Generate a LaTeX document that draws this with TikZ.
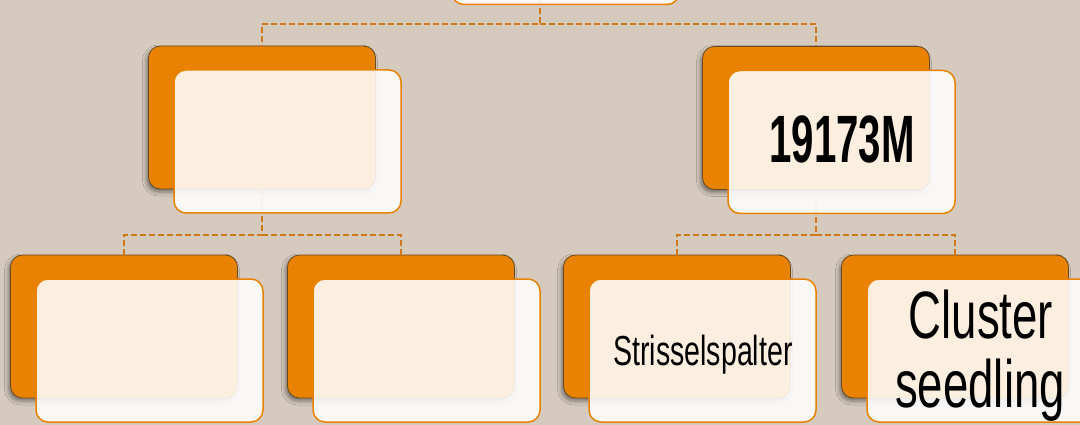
\documentclass[tikz,border=0pt]{standalone}
\usepackage{fontspec}
\usetikzlibrary{shadows.blur,shadows}
\newfontfamily\agency[FakeStretch=0.68]{Liberation Sans}
\newfontfamily\agencyb[FakeStretch=0.6]{Liberation Sans}
\definecolor{bg}{HTML}{D5CABD}
\definecolor{org}{HTML}{E88200}
\definecolor{orgdark}{HTML}{6B4A22}
\definecolor{conn}{HTML}{CC7A1A}
\tikzset{
  obox/.style={draw=orgdark, line width=0.8pt, fill=org, rounded corners=12pt,
    minimum width=227pt, minimum height=143pt, inner sep=0pt,
    blur shadow={shadow xshift=-2pt, shadow yshift=-3pt, shadow blur radius=4pt, shadow opacity=45}},
  wbox/.style={draw=org, line width=1.5pt, fill=white, fill opacity=0.88, rounded corners=12pt,
    minimum width=227pt, minimum height=143pt, inner sep=0pt},
  conn/.style={draw=conn, line width=2pt, dash pattern=on 6pt off 3pt},
  lbl/.style={text=black, anchor=base, inner sep=0pt}
}
\begin{document}
\begin{tikzpicture}[x=1pt,y=-1pt]
\useasboundingbox (0,0) rectangle (1080,425);
\clip (0,0) rectangle (1080,425);
\fill[bg] (0,0) rectangle (1080,425);
% orange boxes
\node[obox] (o0) at (540,-91) {};
\node[obox] (o1) at (262,117.5) {};
\node[obox] (o2) at (816,118) {};
\node[obox] (o3) at (124,326.5) {};
\node[obox] (o4) at (401,326.5) {};
\node[obox] (o5) at (677,326.5) {};
\node[obox] (o6) at (955,326.5) {};
% connectors
\coordinate (j0) at (540,24);
\coordinate (j1) at (262,235);
\coordinate (j2) at (816,235);
\draw[conn] (o0.south) -- (j0) -| (o1.north);
\draw[conn] (j0) -| (o2.north);
\draw[conn] (o1.south) -- (j1) -| (o3.north);
\draw[conn] (j1) -| (o4.north);
\draw[conn] (o2.south) -- (j2) -| (o5.north);
\draw[conn] (j2) -| (o6.north);
% white boxes
\node[wbox] (w0) at (565.5,-67) {};
\node[wbox] (w1) at (287.5,141.5) {};
\node[wbox] (w2) at (841.5,142) {};
\node[wbox] (w3) at (149.5,350.5) {};
\node[wbox] (w4) at (426.5,350.5) {};
\node[wbox] (w5) at (702.5,350.5) {};
\node[wbox] (w6) at (980.5,350.5) {};
% labels
\node[lbl, font=\agencyb\bfseries\fontsize{67}{69}\selectfont] (t2) at (842,163) {19173M};
\node[lbl, font=\agency\fontsize{42}{44}\selectfont] (t5) at (703,365) {Strisselspalter};
\node[lbl, font=\agency\fontsize{67}{69}\selectfont] (t6a) at (981,338) {Cluster};
\node[lbl, font=\agency\fontsize{67}{69}\selectfont] (t6b) at (980,407) {seedling};
\end{tikzpicture}
\end{document}
